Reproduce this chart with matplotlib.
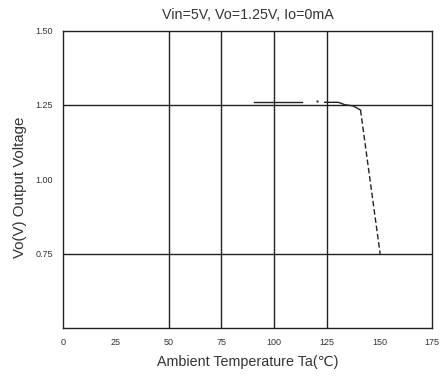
import matplotlib
matplotlib.use("Agg")
import matplotlib.pyplot as plt

plt.rcParams['font.family'] = ['Liberation Sans', 'DejaVu Sans']

# output voltage vs ambient temperature
temp_flat = [90.5, 113.5]
vout_flat = [1.259, 1.259]
temp_dot = [120.6]
vout_dot = [1.263]
temp_knee = [124.0, 130.5, 133.5, 137.5, 141.0]
vout_knee = [1.259, 1.259, 1.251, 1.247, 1.233]
temp_drop = [141.0, 150.3]
vout_drop = [1.233, 0.75]

xticks = [0, 25, 50, 75, 100, 125, 150, 175]
yticks = [0.75, 1.00, 1.25, 1.50]
ylabels = ["0.75", "1.00", "1.25", "1.50"]

fig = plt.figure(figsize=(4.47, 3.77), dpi=100)
ax = fig.add_axes([0.141, 0.129, 0.826, 0.790])

ax.set_xlim(0, 175)
ax.set_ylim(0.5, 1.5)

for x in [50, 75, 100, 125]:
    ax.axvline(x, color="#222222", lw=1.0)
for y in [0.75, 1.25]:
    ax.axhline(y, color="#222222", lw=1.0)

ax.plot(temp_flat, vout_flat, color="#222222", lw=1.0)
ax.plot(temp_dot, vout_dot, ".", color="#444444", ms=1.5)
ax.plot(temp_knee, vout_knee, color="#222222", lw=1.0)
ax.plot(temp_drop, vout_drop, color="#222222", lw=1.0, dashes=(4, 2))

ax.set_xticks(xticks)
ax.set_xticklabels([str(t) for t in xticks])
ax.set_yticks(yticks)
ax.set_yticklabels(ylabels)
ax.tick_params(length=0, labelsize=6.5, labelcolor="#333333", pad=7)
for s in ax.spines.values():
    s.set_linewidth(1.0)
    s.set_color("#222222")

ax.set_title("Vin=5V, Vo=1.25V, Io=0mA", fontsize=10.3, color="#333333", pad=8)
ax.set_xlabel("Ambient Temperature Ta(\u2103)", fontsize=10.3, color="#333333", labelpad=6)
ax.set_ylabel("Vo(V) Output Voltage", fontsize=10.8, color="#333333")
ax.yaxis.set_label_coords(-0.097, 0.475)

fig.savefig("out.png", dpi=100)
